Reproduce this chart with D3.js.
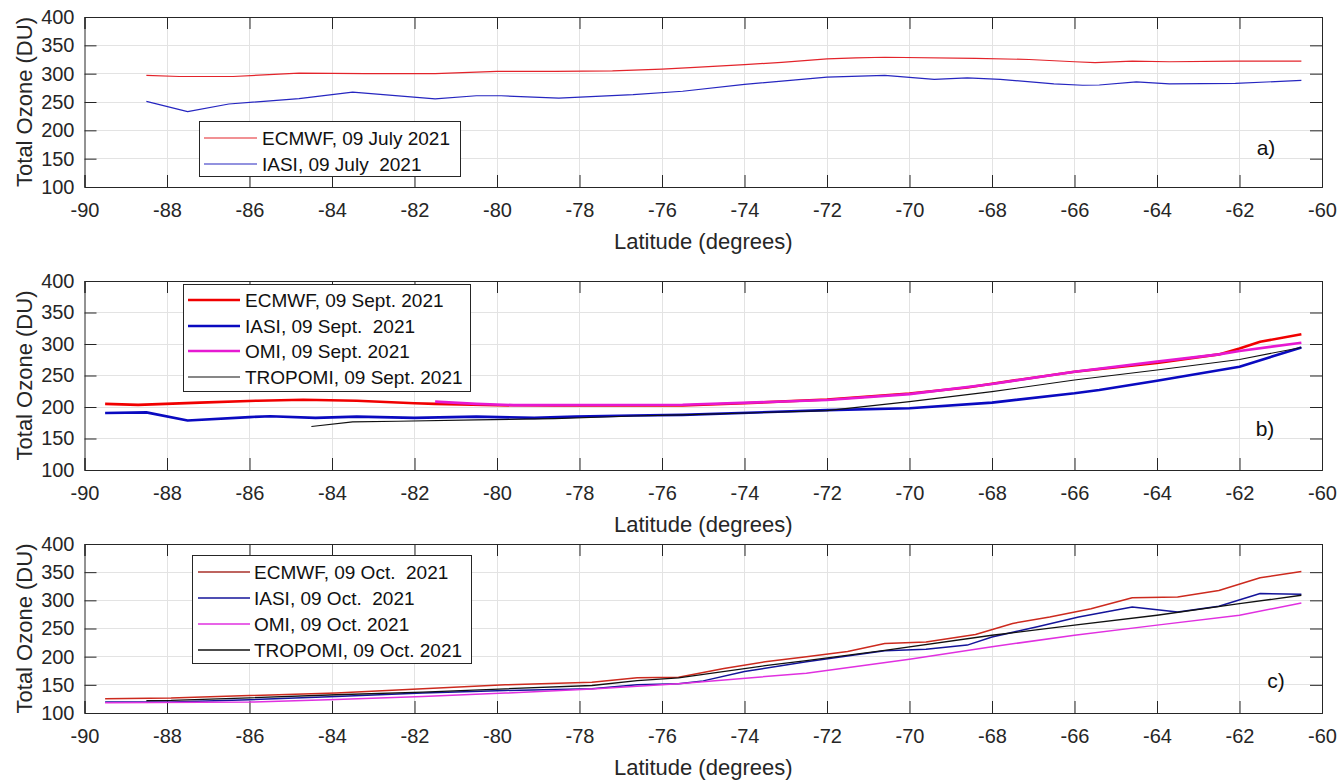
<!DOCTYPE html>
<html>
<head>
<meta charset="utf-8">
<script src="https://cdn.jsdelivr.net/npm/d3@7"></script>
<style>
  html, body { margin: 0; padding: 0; background: #fff; }
  svg { display: block; font-family: "Liberation Sans", Arial, Helvetica, sans-serif; }
</style>
</head>
<body>
<svg id="chart" width="1339" height="780"></svg>
<script>
// ---------- DATA (latitude, total ozone DU) ----------
const xTicks = [-90, -88, -86, -84, -82, -80, -78, -76, -74, -72, -70, -68, -66, -64, -62, -60];
const yTicks = [100, 150, 200, 250, 300, 350, 400];

// Panel a) 09 July 2021
const ecmwfJuly = [[-88.5,297],[-87.7,295],[-86.4,295],[-84.8,301],[-83.2,300],[-81.5,300],[-80.0,304],[-78.6,304],[-77.2,305],[-76.0,308],[-75.2,311],[-74,316],[-73.1,320],[-72,326],[-71.3,328],[-70.6,329],[-68.4,327],[-67.1,325],[-66.0,321],[-65.5,319.5],[-64.6,322],[-63.7,321],[-62.1,322],[-60.5,322]];
const iasiJuly = [[-88.5,251],[-87.5,233],[-86.5,246.5],[-84.8,256],[-83.5,267.5],[-81.5,255.5],[-80.5,261],[-79.9,261],[-78.5,257],[-76.7,263],[-75.5,269],[-74,281],[-72,294],[-70.6,297],[-69.4,290],[-68.6,292.5],[-67.8,290],[-66.5,282],[-65.8,279.6],[-65.4,280],[-64.5,285.5],[-63.7,282],[-62.1,283],[-60.5,288]];

// Panel b) 09 Sept. 2021
const ecmwfSept = [[-89.5,205],[-88.7,203.3],[-87.2,207],[-85.8,210],[-84.7,211.5],[-83.4,210],[-82,206],[-81.5,205],[-80,202.7],[-78.6,202.5],[-75.5,202.5],[-74,206],[-72,212],[-70,221.5],[-68.6,231],[-68,237],[-66,256],[-64,270],[-62.5,283.5],[-62,293],[-61.5,303.5],[-60.5,315.5]];
const iasiSept = [[-89.5,190.5],[-88.5,191.5],[-87.5,178.5],[-86,184],[-85.5,185.3],[-84.4,182.7],[-83.4,184.8],[-82,182.7],[-80.5,184.8],[-79.1,182.7],[-78.1,184.8],[-76.7,186.4],[-75.5,187.5],[-72,195],[-70,198],[-68,207],[-66,221.7],[-65.4,227],[-64,241.8],[-62,264],[-60.5,294.5]];
const omiSept = [[-81.5,208.5],[-80.5,205],[-79.6,203],[-75.5,203.5],[-72,211],[-70,220.5],[-68,236.5],[-66,256],[-64,272],[-62.5,283.5],[-62,289],[-60.5,302]];
const tropomiSept = [[-84.5,169],[-83.5,176.4],[-82.4,177.4],[-80.5,179.5],[-78.6,181.6],[-76.7,185.8],[-75.5,187.5],[-72,194.3],[-70,208.5],[-68,224.4],[-66,242.8],[-64,258.7],[-62,275.5],[-60.5,294.5]];

// Panel c) 09 Oct. 2021
const ecmwfOct = [[-89.5,125.5],[-87.9,126.5],[-86,131],[-83.9,135.5],[-81.8,143],[-79.8,150],[-77.7,154.7],[-76.6,162.4],[-75.6,163.5],[-74.5,179],[-73.5,191],[-72.5,200],[-71.5,209],[-70.6,223.5],[-69.6,226],[-68.4,239.5],[-67.5,259],[-66.6,270.5],[-65.6,285],[-64.6,304.5],[-63.5,306],[-62.5,317.5],[-61.5,340],[-60.5,351]];
const iasiOct = [[-89.5,119.5],[-87.9,119.5],[-86,123.5],[-83.9,129.4],[-81.8,135.3],[-79.8,140],[-77.7,143],[-76.6,150],[-75.6,152],[-75,157],[-74,173.5],[-72.5,191],[-70.6,210.5],[-69.6,213],[-68.6,220.5],[-68,235],[-66.9,253],[-65.9,270.5],[-64.6,288],[-63.5,279.5],[-62.5,289.5],[-61.5,312],[-60.5,311]];
const omiOct = [[-89.5,118],[-86,119.4],[-83.9,124],[-81.8,129.4],[-79.8,135.3],[-77.7,142.4],[-75.6,152],[-72.5,170.6],[-70,195.3],[-68,217.6],[-66,238.2],[-64,256],[-62,273.5],[-60.5,295.3]];
const tropomiOct = [[-88.5,122],[-87.9,122.4],[-86,127],[-83.9,132.4],[-81.8,137],[-79.8,143],[-77.7,148.8],[-76.6,157.6],[-75.6,162.4],[-73.5,184],[-72.5,193],[-70.6,211],[-68,238],[-66,256],[-64,273.5],[-62,294],[-60.5,309]];

const legendJuly = ["ECMWF, 09 July 2021", "IASI, 09 July  2021"];
const legendSept = ["ECMWF, 09 Sept. 2021", "IASI, 09 Sept.  2021", "OMI, 09 Sept. 2021", "TROPOMI, 09 Sept. 2021"];
const legendOct = ["ECMWF, 09 Oct.  2021", "IASI, 09 Oct.  2021", "OMI, 09 Oct. 2021", "TROPOMI, 09 Oct. 2021"];
const panelLabels = ["a)", "b)", "c)"];
const xTitle = "Latitude (degrees)";
const yTitle = "Total Ozone (DU)";

// ---------- LAYOUT / STYLE ----------
const svg = d3.select("#chart");
const FONT = '"Liberation Sans", Arial, Helvetica, sans-serif';
const AX = "#262626";
const x = d3.scaleLinear().domain([-90, -60]).range([84.5, 1322]);

const panels = [
  { top: 17, bottom: 187, label: panelLabels[0], labelPos: [1266, 147],
    legend: { box: [199, 121, 460, 176], rows: [138, 164], line: [204, 257], text: 262, names: legendJuly },
    series: [ { data: ecmwfJuly, color: "#e3242b", w: 1.2 }, { data: iasiJuly, color: "#2626c0", w: 1.2 } ] },
  { top: 281, bottom: 470, label: panelLabels[1], labelPos: [1265, 428],
    legend: { box: [183, 284, 470, 391], rows: [300, 326, 351, 377], line: [188, 240], text: 245, names: legendSept },
    series: [ { data: ecmwfSept, color: "#f00000", w: 2.6 }, { data: iasiSept, color: "#0a0ac0", w: 2.6 },
              { data: omiSept, color: "#e619d2", w: 2.6 }, { data: tropomiSept, color: "#111111", w: 1.1 } ] },
  { top: 544, bottom: 713, label: panelLabels[2], labelPos: [1276, 680],
    legend: { box: [192, 555, 471, 663], rows: [572, 598, 624, 650], line: [198, 250], text: 254, names: legendOct },
    series: [ { data: ecmwfOct, color: "#cc2a1e", w: 1.5 }, { data: iasiOct, color: "#14149a", w: 1.5 },
              { data: omiOct, color: "#e030e0", w: 1.5 }, { data: tropomiOct, color: "#111111", w: 1.3 } ] }
];

// legend colour for ECMWF Oct looks more brownish
const legendColorOverride = { 2: { 0: "#a8302a" } };

panels.forEach((p, pi) => {
  const y = d3.scaleLinear().domain([100, 400]).range([p.bottom, p.top]);
  const g = svg.append("g");
  const x0 = x.range()[0], x1 = x.range()[1];

  // grid
  g.append("g").selectAll("line").data(xTicks.slice(1, -1)).join("line")
    .attr("x1", d => x(d)).attr("x2", d => x(d)).attr("y1", p.top).attr("y2", p.bottom)
    .attr("stroke", "#e3e3e3").attr("stroke-width", 1).attr("shape-rendering", "crispEdges");
  g.append("g").selectAll("line").data(yTicks.slice(1, -1)).join("line")
    .attr("x1", x0).attr("x2", x1).attr("y1", d => y(d)).attr("y2", d => y(d))
    .attr("stroke", "#e3e3e3").attr("stroke-width", 1).attr("shape-rendering", "crispEdges");

  // axes (inward ticks)
  const TL = 12;
  const bottomAxis = d3.axisBottom(x).tickValues(xTicks).tickSize(-TL).tickPadding(TL + 8).tickFormat(d3.format("d"));
  const topAxis = d3.axisTop(x).tickValues(xTicks).tickSize(-TL).tickFormat("");
  const leftAxis = d3.axisLeft(y).tickValues(yTicks).tickSize(-TL).tickPadding(10).tickFormat(d3.format("d"));
  const rightAxis = d3.axisRight(y).tickValues(yTicks).tickSize(-TL).tickFormat("");

  const styleAxis = sel => {
    sel.selectAll(".domain").attr("stroke", AX).attr("stroke-width", 1);
    sel.selectAll(".tick line").attr("stroke", AX).attr("stroke-width", 1);
    sel.selectAll("text").attr("fill", AX).attr("font-size", 20).attr("font-family", FONT);
  };
  g.append("g").attr("transform", `translate(0,${p.bottom})`).call(bottomAxis).call(styleAxis)
    .selectAll("text").attr("dy", "0.5em").text(d => d3.format("d")(d).replace("−", "-"));
  g.append("g").attr("transform", `translate(0,${p.top})`).call(topAxis).call(styleAxis);
  g.append("g").attr("transform", `translate(${x0},0)`).call(leftAxis).call(styleAxis);
  g.append("g").attr("transform", `translate(${x1},0)`).call(rightAxis).call(styleAxis);

  // lines
  const line = d3.line().x(d => x(d[0])).y(d => y(d[1]));
  p.series.forEach(s => {
    g.append("path").datum(s.data).attr("d", line)
      .attr("fill", "none").attr("stroke", s.color).attr("stroke-width", s.w)
      .attr("stroke-linejoin", "round");
  });

  // axis titles
  g.append("text").attr("x", (x0 + x1) / 2).attr("y", p.bottom + 54)
    .attr("text-anchor", "middle").attr("dominant-baseline", "central")
    .attr("font-size", 22).attr("font-family", FONT).attr("fill", AX).text(xTitle);
  g.append("text").attr("transform", `translate(24,${(p.top + p.bottom) / 2}) rotate(-90)`)
    .attr("text-anchor", "middle").attr("dominant-baseline", "central")
    .attr("font-size", 22).attr("font-family", FONT).attr("fill", AX).text(yTitle);

  // panel label
  g.append("text").attr("x", p.labelPos[0]).attr("y", p.labelPos[1])
    .attr("text-anchor", "middle").attr("dominant-baseline", "central")
    .attr("font-size", 21).attr("font-family", FONT).attr("fill", "#111").text(p.label);

  // legend
  const L = p.legend;
  const lg = g.append("g");
  lg.append("rect").attr("x", L.box[0] + 0.5).attr("y", L.box[1] + 0.5)
    .attr("width", L.box[2] - L.box[0]).attr("height", L.box[3] - L.box[1])
    .attr("fill", "#fff").attr("stroke", "#262626").attr("stroke-width", 1);
  L.names.forEach((name, i) => {
    const s = p.series[i];
    const c = (legendColorOverride[pi] && legendColorOverride[pi][i]) || s.color;
    lg.append("line").attr("x1", L.line[0]).attr("x2", L.line[1]).attr("y1", L.rows[i]).attr("y2", L.rows[i])
      .attr("stroke", c).attr("stroke-width", s.w);
    lg.append("text").attr("x", L.text).attr("y", L.rows[i]).attr("dominant-baseline", "central")
      .attr("font-size", 19).attr("font-family", FONT).attr("fill", "#111").attr("xml:space", "preserve")
      .style("white-space", "pre").text(name);
  });
});
</script>
</body>
</html>
